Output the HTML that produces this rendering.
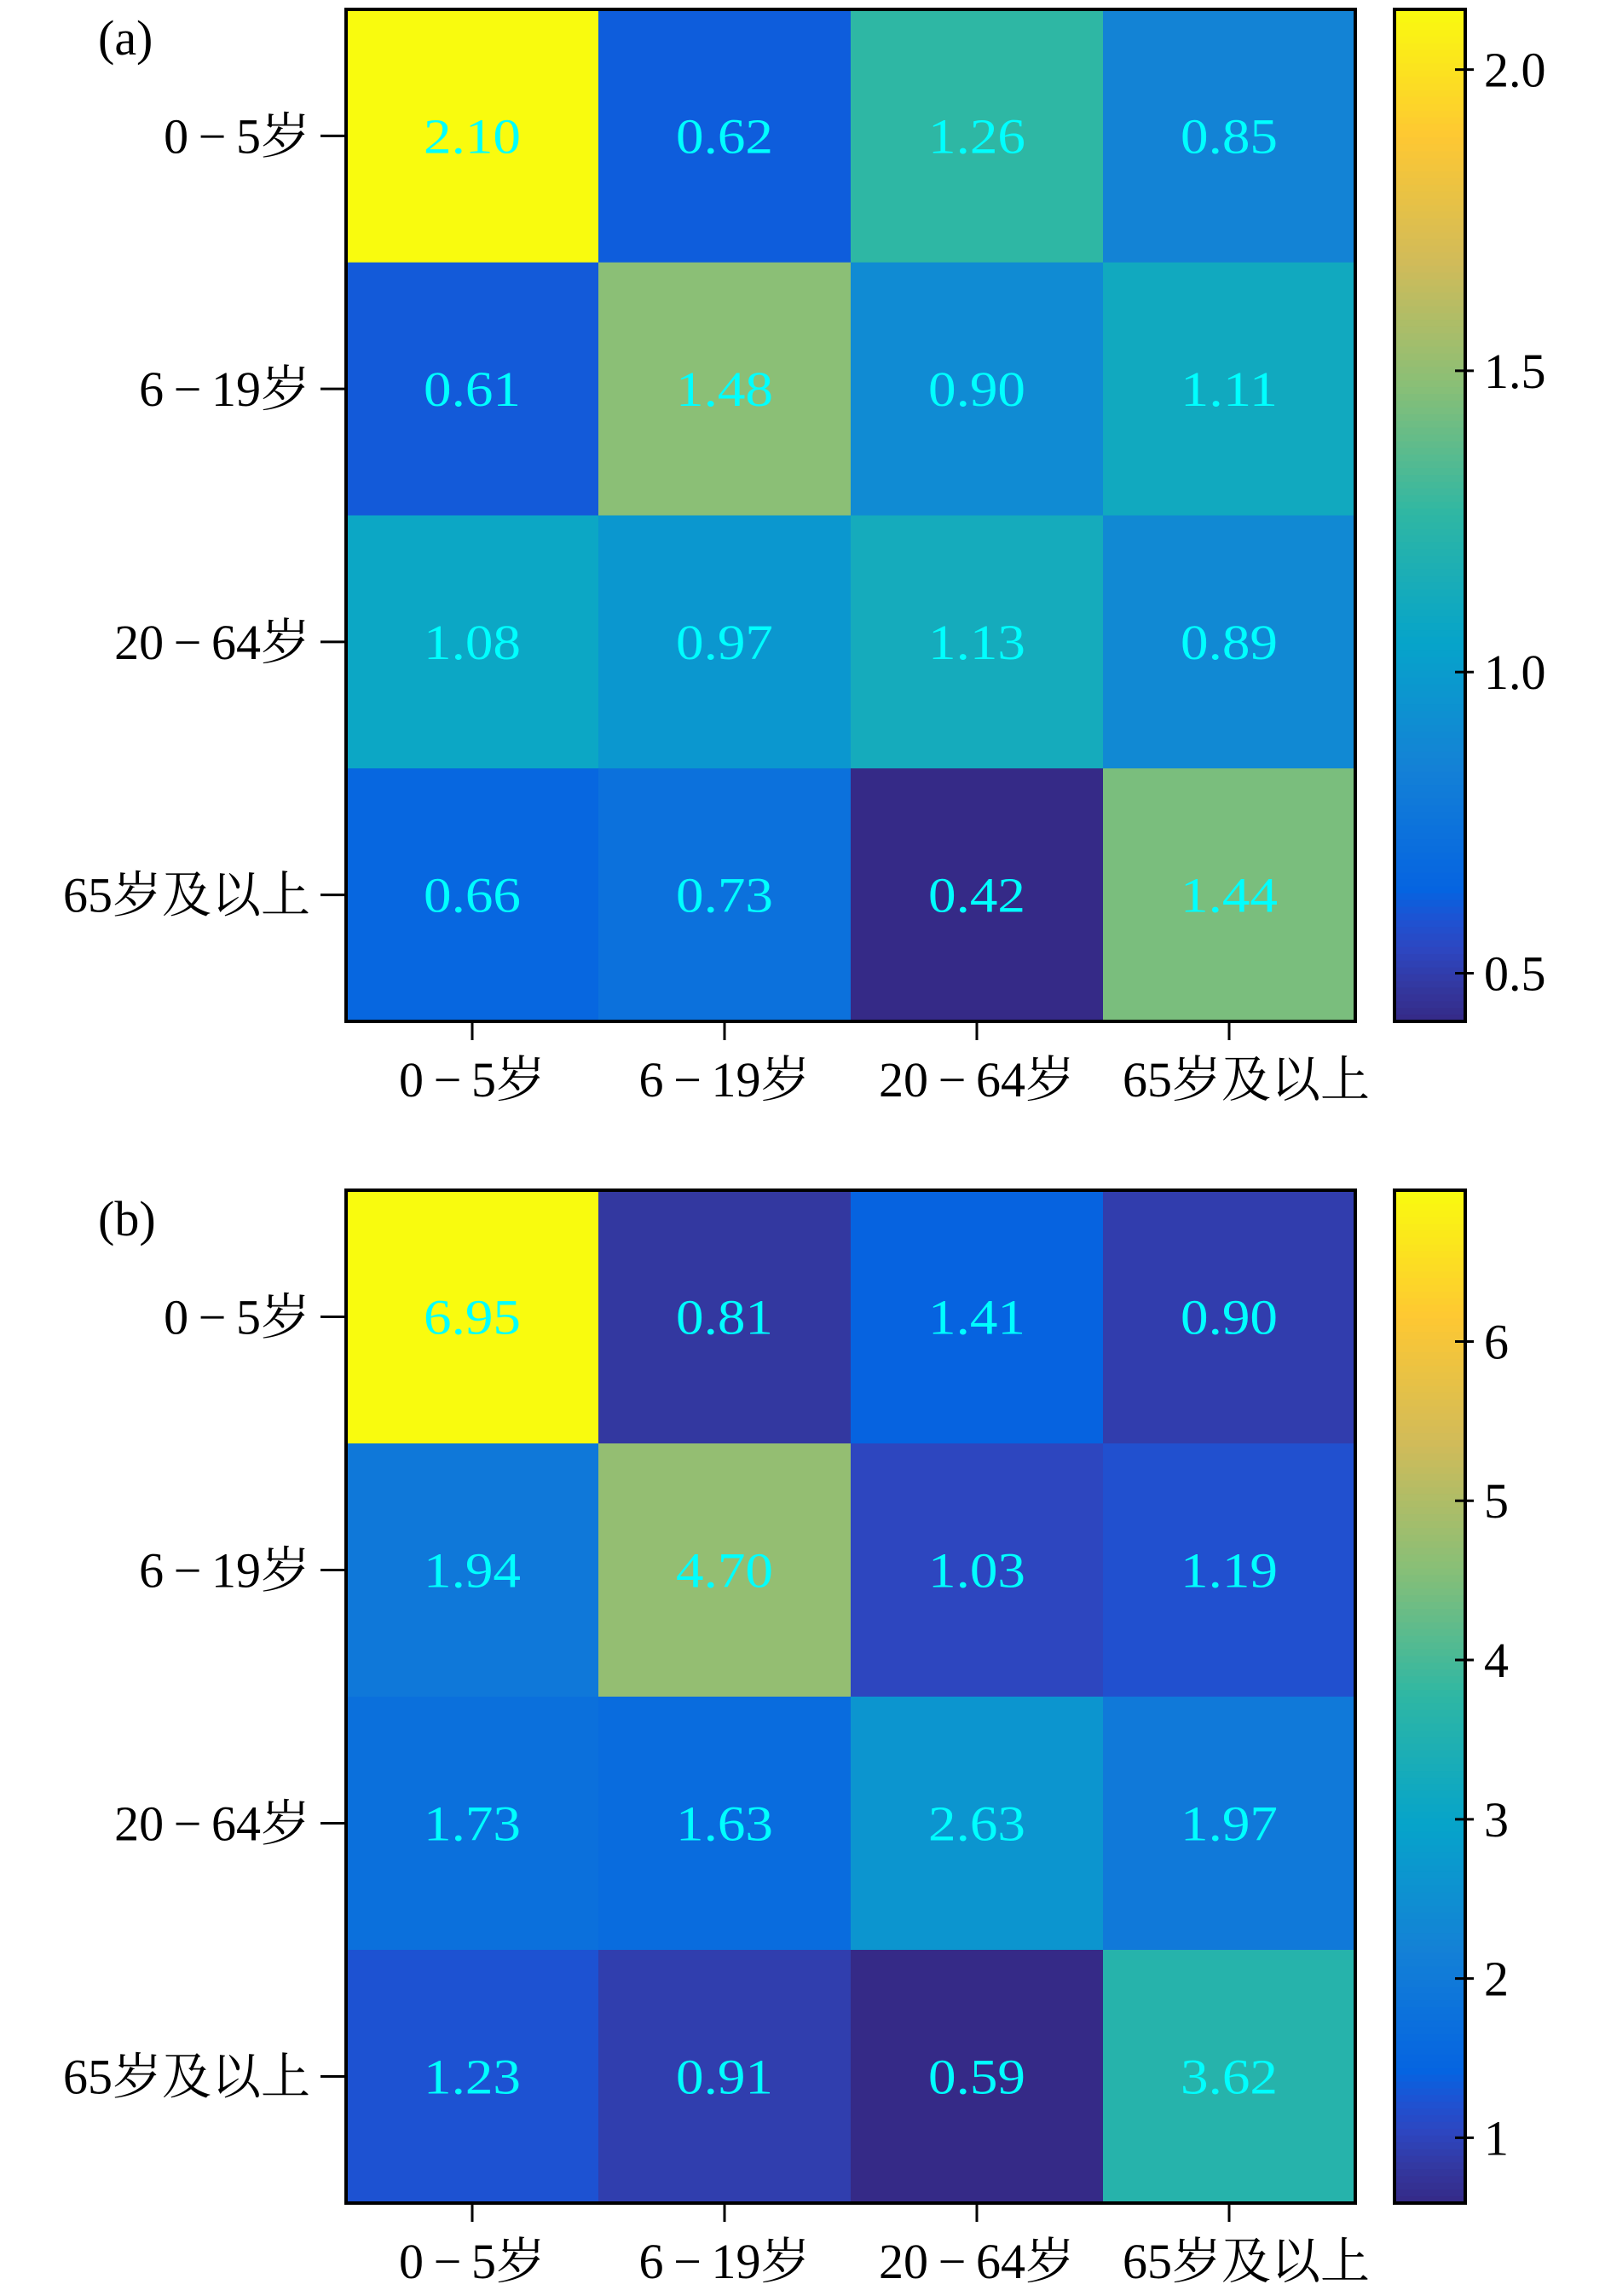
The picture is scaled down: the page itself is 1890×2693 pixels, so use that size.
<!DOCTYPE html>
<html><head><meta charset="utf-8">
<style>
html,body{margin:0;padding:0;background:#fff;}
svg{display:block;}
text{font-family:"Liberation Serif","Noto Serif CJK SC",serif;}
</style></head>
<body>
<svg id="fig" width="1890" height="2693" viewBox="0 0 1890 2693" xmlns="http://www.w3.org/2000/svg"></svg>
<script>
const categories = ["0\u2009\u2212\u20095岁","6\u2009\u2212\u200919岁","20\u2009\u2212\u200964岁","65岁及以上"];
const valuesA = [
  [2.10,0.62,1.26,0.85],
  [0.61,1.48,0.90,1.11],
  [1.08,0.97,1.13,0.89],
  [0.66,0.73,0.42,1.44]
];
const valuesB = [
  [6.95,0.81,1.41,0.90],
  [1.94,4.70,1.03,1.19],
  [1.73,1.63,2.63,1.97],
  [1.23,0.91,0.59,3.62]
];
const ticksA = [0.5,1.0,1.5,2.0];
const tickLabelsA = ["0.5","1.0","1.5","2.0"];
const ticksB = [1,2,3,4,5,6];
const tickLabelsB = ["1","2","3","4","5","6"];

const NS="http://www.w3.org/2000/svg";
const svg=document.getElementById('fig');
const stops=[[0,[53,42,135]],[0.035,[51,56,160]],[0.07,[45,70,192]],[0.1,[30,82,210]],[0.13,[5,100,225]],[0.25,[20,129,214]],[0.375,[6,164,202]],[0.5,[46,183,164]],[0.625,[135,191,119]],[0.75,[209,187,89]],[0.875,[254,200,50]],[1,[249,251,14]]];
function parula(t){
  t=Math.max(0,Math.min(1,t));
  for(let i=1;i<stops.length;i++){
    if(t<=stops[i][0]){
      const a=stops[i-1],b=stops[i],f=(t-a[0])/(b[0]-a[0]);
      const c=a[1].map((v,k)=>Math.round(v+(b[1][k]-v)*f));
      return `rgb(${c[0]},${c[1]},${c[2]})`;
    }
  }
  return 'rgb(249,251,14)';
}
function el(tag,attrs,parent){
  const e=document.createElementNS(NS,tag);
  for(const k in attrs)e.setAttribute(k,attrs[k]);
  (parent||svg).appendChild(e);return e;
}
function panel(id,label,vals,top,bottom,ticks,tickLabels){
  const left=406,right=1590;
  const g=el('g',{});
  
  
  const flat=vals.flat();
  const vmin=Math.min(...flat),vmax=Math.max(...flat);
  const n=categories.length;
  const cw=(right-left)/n,ch=(bottom-top)/n;
  const xC=j=>left+cw*(j+0.5), yC=i=>top+ch*(i+0.5);
  const norm=v=>(v-vmin)/(vmax-vmin);
  vals.forEach((row,i)=>row.forEach((v,j)=>{
    const r=el('rect',{x:left+cw*j,y:top+ch*i,width:cw+0.5,height:ch+0.5,fill:parula(norm(v))},g);
    
    
    const t=el('text',{x:xC(j),y:yC(i)+20,'text-anchor':'middle','font-size':58,fill:'#00ffff',textLength:114,lengthAdjust:'spacingAndGlyphs'},g);
    
    
    t.textContent=v.toFixed(2);
  }));
  const frame=el('rect',{x:left,y:top,width:right-left,height:bottom-top,fill:'none',stroke:'#000','stroke-width':4},g);
  
  
  categories.forEach((c,i)=>{
    el('line',{x1:left-30,x2:left,y1:yC(i),y2:yC(i),stroke:'#000','stroke-width':3},g);
    const t=el('text',{x:left-42,y:yC(i)+20,'text-anchor':'end','font-size':58},g);
    
    
    t.textContent=c;
    el('line',{x1:xC(i),x2:xC(i),y1:bottom,y2:bottom+22,stroke:'#000','stroke-width':3},g);
    const tx=el('text',{x:xC(i)+(i==3?20:0),y:bottom+88,'text-anchor':'middle','font-size':58},g);
    
    
    tx.textContent=c;
  });
  const lab=el('text',{x:115,y:top+53,'font-size':58},g);
  
  
  lab.textContent=label;
  const cbL=1636,cbR=1719,N=150;
  const cb=el('g',{},g);
  
  
  const yv=v=>bottom-(v-vmin)/(vmax-vmin)*(bottom-top);
  for(let k=0;k<N;k++){
    const y0=top+(bottom-top)*k/N;
    el('rect',{x:cbL,y:y0,width:cbR-cbL,height:(bottom-top)/N+1,fill:parula(1-(k+0.5)/N)},cb);
  }
  el('rect',{x:cbL,y:top,width:cbR-cbL,height:bottom-top,fill:'none',stroke:'#000','stroke-width':4},cb);
  ticks.forEach((v,k)=>{
    el('line',{x1:cbR-12,x2:cbR+10,y1:yv(v),y2:yv(v),stroke:'#000','stroke-width':3},cb);
    const t=el('text',{x:cbR+22,y:yv(v)+20,'font-size':58},cb);
    
    
    t.textContent=tickLabels[k];
  });
}
panel('a','(a)',valuesA,11,1198,ticksA,tickLabelsA);
panel('b','(b)',valuesB,1396,2584,ticksB,tickLabelsB);
</script>
</body></html>
